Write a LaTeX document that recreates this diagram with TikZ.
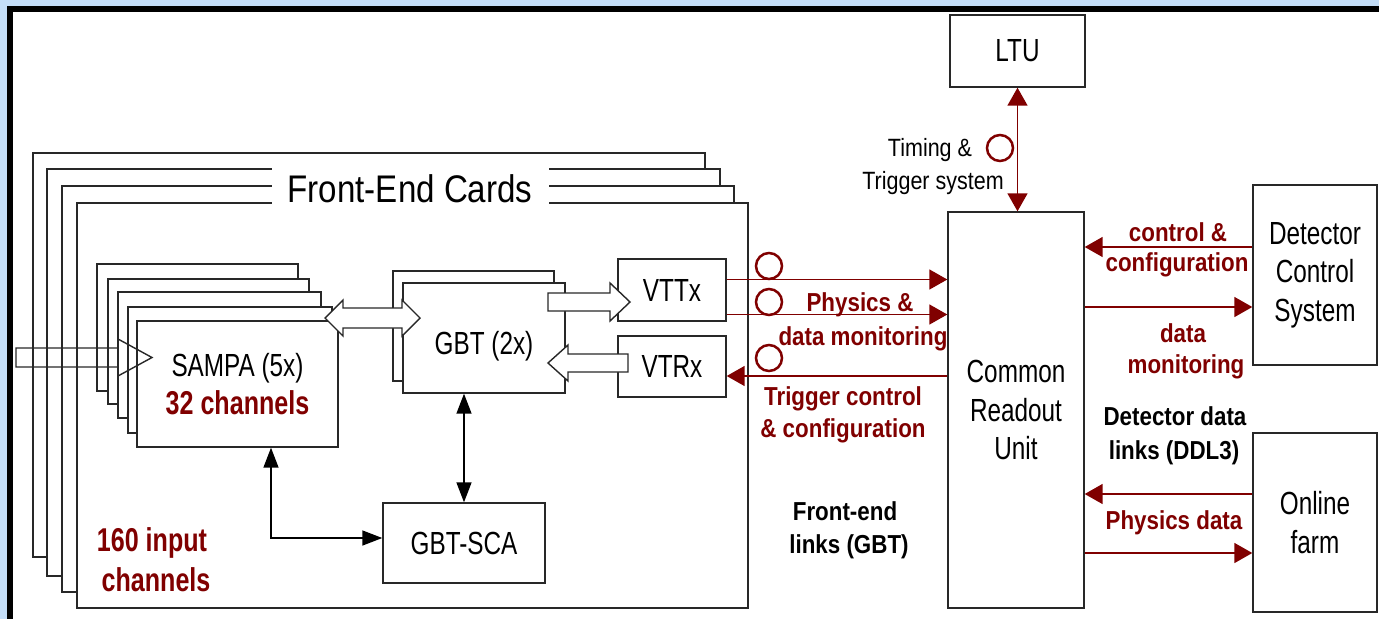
\documentclass[tikz,border=0pt]{standalone}
\usepackage{fontspec}
\setmainfont{Liberation Sans}[FakeStretch=0.76]
\newfontfamily\lblfont{Liberation Sans}[FakeStretch=0.86]
\usetikzlibrary{arrows.meta,calc}
\definecolor{dred}{RGB}{128,0,0}
\definecolor{lblue}{RGB}{196,222,248}
\definecolor{boxc}{RGB}{40,40,40}
\begin{document}
\begin{tikzpicture}[x=1pt,y=-1pt,
  box/.style={draw=boxc,line width=1.4pt,fill=white,inner sep=0pt,align=center,font=\fontsize{32}{38.5}\selectfont},
  stk/.style={draw=boxc,line width=1.4pt,fill=white},
  blk/.style={draw=boxc,line width=1.4pt,fill=white,line join=miter},
  lbl/.style={inner sep=0pt,text height=18.6pt,text depth=0pt,font=\lblfont\fontsize{26}{30}\selectfont\bfseries},
  redlbl/.style={lbl,text=dred},
  biglbl/.style={inner sep=0pt,text height=23.6pt,text depth=0pt,text=dred,font=\fontsize{33}{36}\selectfont\bfseries},
  smlbl/.style={inner sep=0pt,text height=17.9pt,text depth=0pt,font=\lblfont\fontsize{25}{30}\selectfont},
  rarr/.style={draw=dred,line width=1.6pt,-{Triangle[length=18pt,width=20pt]}},
  rboth/.style={draw=dred,line width=1.6pt,{Triangle[length=18pt,width=20pt]}-{Triangle[length=18pt,width=20pt]}},
  kboth/.style={draw=black,line width=1.5pt,{Triangle[length=20pt,width=15pt]}-{Triangle[length=20pt,width=15pt]}},
  ring/.style={circle,draw=dred,line width=2.5pt,minimum size=26pt,inner sep=0pt}
]
\useasboundingbox (0,0) rectangle (1379,619);
\fill[lblue] (0,0) rectangle (1379,619);
\fill[black] (7,6) rectangle (1379,619);
\fill[white] (13,12) rectangle (1379,619);

% Front-end cards stack
\draw[stk] (33,153) rectangle (705,557);
\draw[stk] (47,169) rectangle (720,576);
\draw[stk] (62,186) rectangle (734,592);
\node[box,minimum width=671pt,minimum height=405pt] (fec) at (412.5,405.5) {};
\node[fill=white,inner sep=0pt,minimum width=277pt,minimum height=46pt,font=\lblfont\fontsize{38.5}{44}\selectfont] (fect) at (410,189) {Front-End Cards};

% SAMPA stack
\draw[stk] (97,264) rectangle (298,391);
\draw[stk] (108,279) rectangle (309,404);
\draw[stk] (118,292) rectangle (321,418);
\draw[stk] (128,307) rectangle (332,433);
\node[box,minimum width=201pt,minimum height=126pt] (sampa) at (237.5,384) {SAMPA (5x)\\[-1pt]\textcolor{dred}{\fontsize{33}{36}\selectfont\bfseries 32 channels}};

% GBT stack
\draw[stk] (393,271) rectangle (554,381);
\node[box,minimum width=162pt,minimum height=110pt,text height=33pt,text depth=0pt] (gbt) at (484,338) {GBT (2x)};

\node[box,minimum width=108pt,minimum height=62pt] (vttx) at (672,290) {VTTx};
\node[box,minimum width=108pt,minimum height=61pt] (vtrx) at (672,366.5) {VTRx};
\node[box,minimum width=162pt,minimum height=80pt] (sca) at (464,543) {GBT-SCA};

\node[box,minimum width=135pt,minimum height=72pt] (ltu) at (1017.5,51) {LTU};
\node[box,minimum width=136pt,minimum height=396pt] (cru) at (1016,410) {Common\\Readout\\Unit};
\node[box,minimum width=124pt,minimum height=180pt] (dcs) at (1315,275) {Detector\\Control\\System};
\node[box,minimum width=124pt,minimum height=179pt] (farm) at (1315,522.5) {Online\\farm};

% block arrows
\draw[blk] (325,318) -- (343,300) -- (343,308) -- (402,308) -- (402,300) -- (420,318)
  -- (402,336) -- (402,328) -- (343,328) -- (343,336) -- cycle;
\draw[blk] (548,293) -- (610,293) -- (610,283) -- (630,302) -- (610,321) -- (610,311) -- (548,311) -- cycle;
\draw[blk] (628,354) -- (568,354) -- (568,345) -- (548,363) -- (568,381) -- (568,372) -- (628,372) -- cycle;
\draw[draw=boxc,line width=1.4pt,line join=miter] (16,348) -- (118,348) -- (118,339) -- (152,357.5)
  -- (118,376) -- (118,367) -- (16,367) -- cycle;

% black arrows
\draw[kboth] (gbt.south -| sca.north) -- (sca.north);
\coordinate (s1) at ([xshift=33.5pt]sampa.south);
\coordinate (s2) at ([yshift=5pt]sca.west);
\draw[kboth] (s1) |- (s2);

% red links
\coordinate (a1) at ([yshift=10.5pt]vttx.east);
\coordinate (a2) at ([yshift=-24.5pt]vttx.east);
\coordinate (a3) at ([yshift=-9.5pt]vtrx.east);
\draw[rarr] (a1) -- (a1 -| cru.west);
\draw[rarr] (a2) -- (a2 -| cru.west);
\draw[rarr] (a3 -| cru.west) -- (a3);
\coordinate (d1) at ([yshift=28pt]dcs.west);
\coordinate (d2) at ([yshift=-32pt]dcs.west);
\draw[rarr] (d1) -- (d1 -| cru.east);
\draw[rarr] (d2 -| cru.east) -- (d2);
\coordinate (f1) at ([yshift=28.5pt]farm.west);
\coordinate (f2) at ([yshift=-30.5pt]farm.west);
\draw[rarr] (f1) -- (f1 -| cru.east);
\draw[rarr] (f2 -| cru.east) -- (f2);
\draw[rboth] (ltu.south) -- (ltu.south |- cru.north);

\node[ring] (r0) at (1000,148) {};
\node[ring] (r1) at (769,266) {};
\node[ring] (r2) at (769,302) {};
\node[ring] (r3) at (769,358) {};

% labels
\node[smlbl] (t1) at (930,148) {Timing \&};
\node[smlbl] (t2) at (933,181) {Trigger system};
\node[redlbl] (p1) at (860,302) {Physics \&};
\node[redlbl] (p2) at (863,336) {data monitoring};
\node[redlbl] (q1) at (843,396) {Trigger control};
\node[redlbl] (q2) at (843,428) {\& configuration};
\node[redlbl] (c1) at (1178,232) {control \&};
\node[redlbl] (c2) at (1177,262) {configuration};
\node[redlbl] (m1) at (1183,333) {data};
\node[redlbl] (m2) at (1186,364) {monitoring};
\node[redlbl] (pd) at (1174,520) {Physics data};
\node[lbl] (dd1) at (1175,416) {Detector data};
\node[lbl] (dd2) at (1174,450) {links (DDL3)};
\node[lbl] (fe1) at (845,511) {Front-end};
\node[lbl] (fe2) at (849,544) {links (GBT)};
\node[biglbl] (in1) at (152,540) {160 input};
\node[biglbl] (in2) at (156,580) {channels};
\end{tikzpicture}
\end{document}
